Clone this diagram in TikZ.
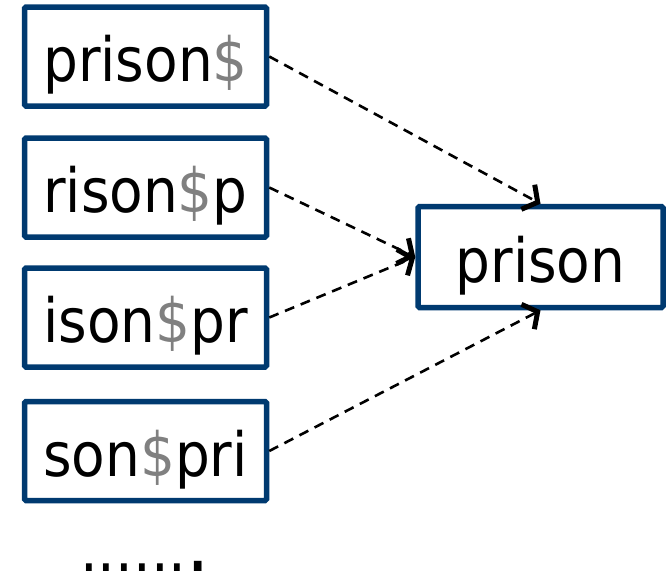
\documentclass[tikz,border=0pt]{standalone}
\usepackage{fontspec}
\setmainfont{DejaVu Sans Condensed}
\usetikzlibrary{arrows.meta}
\definecolor{boxblue}{RGB}{0,58,112}
\definecolor{sepgray}{RGB}{128,128,128}
\newcommand{\sep}{\textcolor{sepgray}{\$}}
\begin{document}
\begin{tikzpicture}[x=1pt,y=-1pt,
  wordbox/.style={draw=boxblue, line width=5.5pt, rounded corners=1.5pt,
    inner sep=0pt, text height=60pt, text depth=10pt,
    font=\fontsize{61}{68}\selectfont},
  rotbox/.style={wordbox, minimum width=242pt, minimum height=99pt},
  goalbox/.style={wordbox, minimum width=245pt, minimum height=101pt},
  conn/.style={draw=black, line width=2.6pt, dash pattern=on 10pt off 7pt,
    -{Straight Barb[length=11pt,width=28pt,line width=5pt]}}]
\useasboundingbox (0,0) rectangle (672,573);

% rotations of the word with the end marker
\node[rotbox] (r1) at (145.5,56.5)  {prison\sep};
\node[rotbox] (r2) at (145.5,187.5) {rison\sep p};
\node[rotbox] (r3) at (145.5,317.5) {ison\sep pr};
\node[rotbox] (r4) at (145.5,451)   {son\sep pri};

% the recovered word
\node[goalbox] (w) at (540.5,257) {prison};

% continuation marks
\node[anchor=base, inner sep=0pt, font=\fontsize{62}{70}\selectfont]
  (more) at (145,571) {......{\fontsize{82}{90}\selectfont .}};

% each rotation maps back to the word
\draw[conn] (r1.east) -- (w.north);
\draw[conn] (r2.east) -- (w.west);
\draw[conn] (r3.east) -- (w.west);
\draw[conn] (r4.east) -- (w.south);
\end{tikzpicture}
\end{document}
